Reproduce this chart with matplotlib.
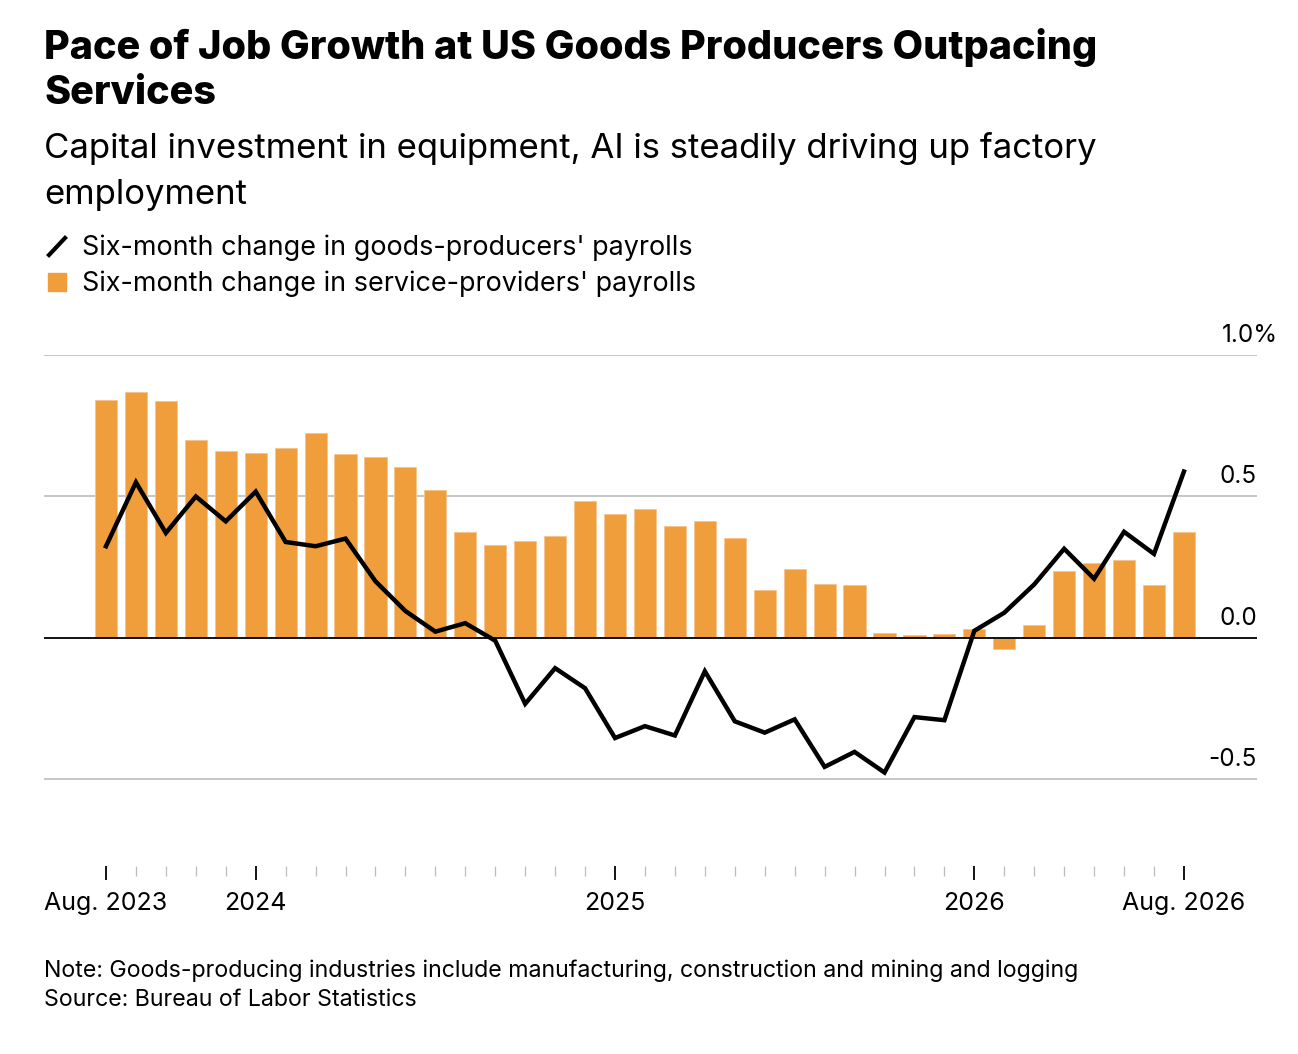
import numpy as np
import matplotlib
matplotlib.use("Agg")
import matplotlib.pyplot as plt
import matplotlib.transforms as mtrans
from matplotlib.lines import Line2D
from matplotlib.patches import Rectangle

plt.rcParams['font.family'] = ['Inter', 'Liberation Sans', 'DejaVu Sans']

# monthly, Aug 2023 .. Aug 2026
months = ["Aug. 2023", "Sep", "Oct", "Nov", "Dec",
          "2024", "Feb", "Mar", "Apr", "May", "Jun", "Jul", "Aug", "Sep", "Oct", "Nov", "Dec",
          "2025", "Feb", "Mar", "Apr", "May", "Jun", "Jul", "Aug", "Sep", "Oct", "Nov", "Dec",
          "2026", "Feb", "Mar", "Apr", "May", "Jun", "Jul", "Aug. 2026"]
services = [0.840, 0.870, 0.836, 0.700, 0.659, 0.652, 0.671, 0.724, 0.650, 0.638,
            0.604, 0.523, 0.374, 0.329, 0.341, 0.361, 0.484, 0.439, 0.455, 0.394,
            0.414, 0.353, 0.170, 0.245, 0.190, 0.188, 0.019, 0.010, 0.013, 0.033,
            -0.039, 0.045, 0.235, 0.266, 0.277, 0.187, 0.375]
goods = [0.324, 0.550, 0.371, 0.500, 0.412, 0.517, 0.339, 0.324, 0.351, 0.200,
         0.095, 0.022, 0.052, -0.010, -0.233, -0.107, -0.178, -0.354, -0.312, -0.345,
         -0.118, -0.295, -0.335, -0.288, -0.456, -0.403, -0.476, -0.280, -0.291, 0.025,
         0.089, 0.189, 0.315, 0.209, 0.375, 0.297, 0.588]
major_labels = ["Aug. 2023", "2024", "2025", "2026", "Aug. 2026"]
ytick_vals = [-0.5, 0.0, 0.5, 1.0]
ytick_text = ["-0.5", "0.0", "0.5", "1.0%"]

W, H = 1298, 1054
fig = plt.figure(figsize=(W / 100, H / 100), dpi=100)
ax = fig.add_axes([44 / W, 1 - 866 / H, (1257 - 44) / W, (866 - 355) / H])

def fy(p):
    return 1 - p / H

x = np.arange(len(months))
orange = '#ef9e3b'
ax.bar(x, services, width=0.74, color=orange, edgecolor='#f6c48c', linewidth=0.6, zorder=2)
ax.plot(x, goods, color='black', linewidth=3.2, zorder=4, solid_joinstyle='miter')

ax.set_xlim(-2.07, 38.44)
ax.set_ylim(-0.8064, 1.0)

for v in ytick_vals:
    if v == 0:
        ax.axhline(0, color='black', linewidth=1.3, zorder=3)
    else:
        ax.axhline(v, color='#c6c6c6', linewidth=1.4, zorder=1)

# y labels sit ~13px above their grid line
lift = mtrans.ScaledTranslation(0, 13 / 100, fig.dpi_scale_trans)
for v, t in zip(ytick_vals, ytick_text):
    if t.endswith('%'):
        tr = mtrans.blended_transform_factory(fig.transFigure, ax.transData) + lift
        ax.text(1222 / W, v, t, transform=tr, ha='left', va='baseline', fontsize=17.5)
    else:
        ax.text(1.0, v, t, transform=ax.get_yaxis_transform() + lift, ha='right',
                va='baseline', fontsize=17.5)

for s in ax.spines.values():
    s.set_visible(False)
ax.set_yticks([])

major_idx = [months.index(m) for m in major_labels]
ax.set_xticks(major_idx)
ax.set_xticklabels(major_labels, fontsize=18)
ax.set_xticks([i for i in x if i not in major_idx], minor=True)
ax.tick_params(axis='x', which='major', length=10, width=1.3, color='black', pad=9)
ax.tick_params(axis='x', which='minor', length=7, width=0.9, color='#bdbdbd')

# titles
fig.text(44 / W, fy(59), "Pace of Job Growth at US Goods Producers Outpacing",
         fontsize=28.5, fontweight='heavy', va='baseline')
fig.text(44 / W, fy(104), "Services", fontsize=28.5, fontweight='heavy', va='baseline')
fig.text(44 / W, fy(158), "Capital investment in equipment, AI is steadily driving up factory",
         fontsize=25, va='baseline')
fig.text(44 / W, fy(204), "employment", fontsize=25, va='baseline')

# legend
fig.add_artist(Line2D([49 / W, 65 / W], [fy(255), fy(238)], color='black', linewidth=3))
fig.add_artist(Rectangle((48 / W, fy(291)), 18 / W, 18 / H, color=orange))
fig.text(82 / W, fy(255), "Six-month change in goods-producers' payrolls", fontsize=19.4, va='baseline')
fig.text(82 / W, fy(291), "Six-month change in service-providers' payrolls", fontsize=19.4, va='baseline')

# notes
fig.text(44 / W, fy(977), "Note: Goods-producing industries include manufacturing, construction and mining and logging",
         fontsize=16.7, va='baseline')
fig.text(44 / W, fy(1006), "Source: Bureau of Labor Statistics", fontsize=16.7, va='baseline')

fig.savefig("out.png", dpi=100)
